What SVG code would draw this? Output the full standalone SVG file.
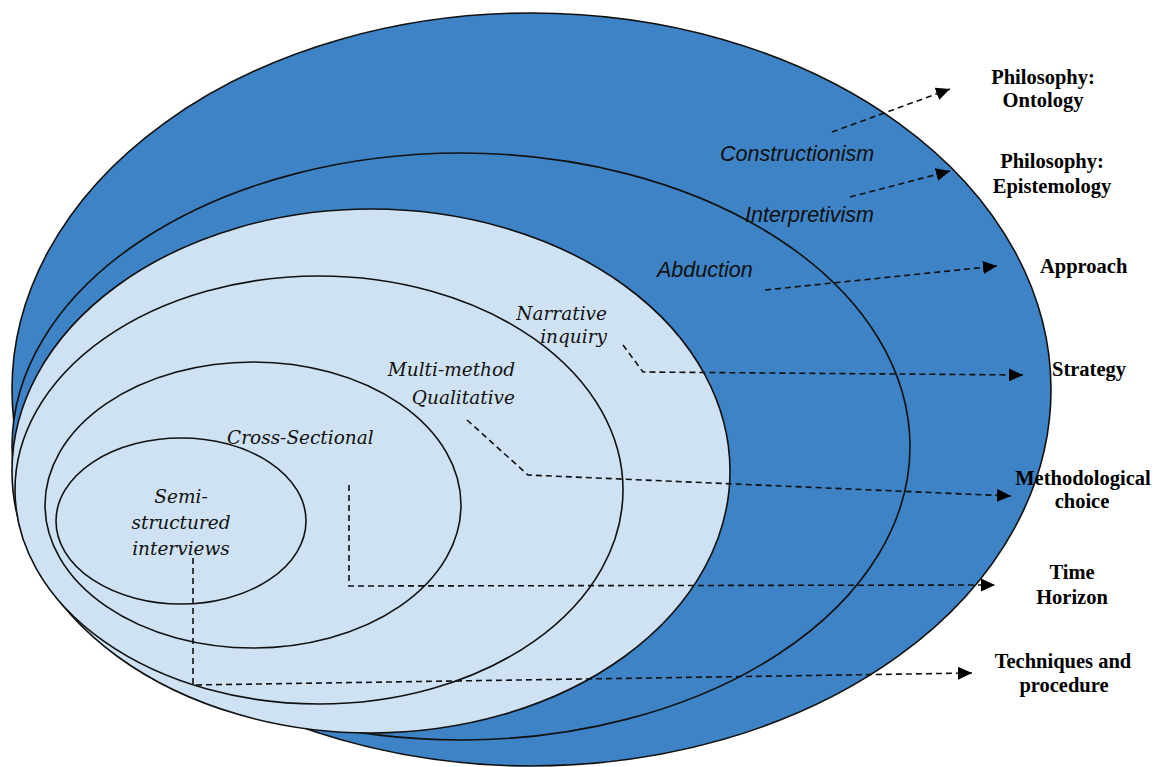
<svg xmlns="http://www.w3.org/2000/svg" width="1159" height="767" viewBox="0 0 1159 767">
  <defs>
    <marker id="arrow" markerUnits="userSpaceOnUse" markerWidth="15" markerHeight="13" refX="14" refY="6.5" orient="auto">
      <path d="M0,0 L14,6.5 L0,13 z" fill="#000"/>
    </marker>
  </defs>
  <style>
    .dark { fill: #3E83C5; stroke: #111; stroke-width: 1.6; }
    .light { fill: #CFE2F3; stroke: #111; stroke-width: 1.6; }
    .conn { fill: none; stroke: #111; stroke-width: 1.6; stroke-dasharray: 6 4; marker-end: url(#arrow); }
    .lab-sans { font-family: "Liberation Sans", Arial, sans-serif; font-style: italic; font-size: 21.5px; fill: #111; }
    .lab-serif { font-family: "DejaVu Serif", "Liberation Serif", serif; font-style: italic; font-size: 18.5px; fill: #111; }
    .right { font-family: "Liberation Serif", "Times New Roman", serif; font-weight: bold; font-size: 20.5px; fill: #000; }
  </style>
  <rect width="1159" height="767" fill="#fff"/>

  <g id="ontology-layer">
    <ellipse class="dark" cx="531.5" cy="389.5" rx="519.5" ry="376.5"/>
    <text class="lab-sans" x="720" y="161">Constructionism</text>
  </g>
  <g id="epistemology-layer">
    <ellipse class="dark" cx="461" cy="446.5" rx="449" ry="293.5"/>
    <text class="lab-sans" x="745" y="222">Interpretivism</text>
  </g>
  <g id="approach-layer">
    <ellipse class="light" cx="371" cy="471" rx="359" ry="262"/>
    <text class="lab-sans" x="657" y="277">Abduction</text>
  </g>
  <g id="strategy-layer">
    <ellipse class="light" cx="319" cy="490" rx="304" ry="214"/>
    <text class="lab-serif" x="607" y="320" text-anchor="end">Narrative</text>
    <text class="lab-serif" x="607" y="343" text-anchor="end">inquiry</text>
  </g>
  <g id="choice-layer">
    <ellipse class="light" cx="253" cy="505" rx="208" ry="143"/>
    <text class="lab-serif" x="515" y="376" text-anchor="end" font-size="19">Multi-method</text>
    <text class="lab-serif" x="515" y="404" text-anchor="end" font-size="19">Qualitative</text>
  </g>
  <g id="time-layer">
    <ellipse class="light" cx="181" cy="521" rx="125" ry="83"/>
    <text class="lab-serif" x="227" y="444" font-size="19">Cross-Sectional</text>
  </g>
  <g id="techniques-layer">
    <text class="lab-serif" x="181" y="503" text-anchor="middle">Semi-</text>
    <text class="lab-serif" x="181" y="529" text-anchor="middle">structured</text>
    <text class="lab-serif" x="181" y="555" text-anchor="middle">interviews</text>
  </g>

  <g id="connectors">
    <path class="conn" d="M832,132 L950,89"/>
    <path class="conn" d="M850,197 L950,171"/>
    <path class="conn" d="M765,290 L997,266"/>
    <path class="conn" d="M623,345 L643,372 L1023,375"/>
    <path class="conn" d="M467,420 L528,475 L1011,496"/>
    <path class="conn" d="M349,485 L349,586 L995,585"/>
    <path class="conn" d="M193,558 L193,685 L972,673"/>
  </g>

  <g id="label-ontology">
    <text class="right" x="1043" y="84" text-anchor="middle" font-size="19.5">Philosophy:</text>
    <text class="right" x="1043" y="107" text-anchor="middle" font-size="19.5">Ontology</text>
  </g>
  <g id="label-epistemology">
    <text class="right" x="1052" y="168" text-anchor="middle" font-size="21">Philosophy:</text>
    <text class="right" x="1052" y="193" text-anchor="middle" font-size="21">Epistemology</text>
  </g>
  <g id="label-approach">
    <text class="right" x="1040" y="273" font-size="23">Approach</text>
  </g>
  <g id="label-strategy">
    <text class="right" x="1052" y="376">Strategy</text>
  </g>
  <g id="label-choice">
    <text class="right" x="1083" y="485" text-anchor="middle">Methodological</text>
    <text class="right" x="1082" y="508" text-anchor="middle">choice</text>
  </g>
  <g id="label-time">
    <text class="right" x="1072" y="579" text-anchor="middle">Time</text>
    <text class="right" x="1072" y="604" text-anchor="middle">Horizon</text>
  </g>
  <g id="label-techniques">
    <text class="right" x="1063" y="668" text-anchor="middle">Techniques and</text>
    <text class="right" x="1064" y="692" text-anchor="middle">procedure</text>
  </g>
</svg>
